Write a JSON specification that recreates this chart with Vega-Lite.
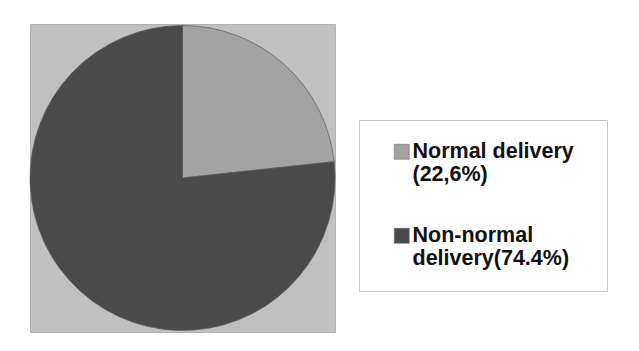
{
  "$schema": "https://vega.github.io/schema/vega-lite/v6.json",
  "width": 305,
  "height": 308,
  "autosize": "none",
  "padding": {"left": 30, "top": 24, "right": 304, "bottom": 19},
  "background": "white",
  "view": {"fill": "#c0c0c0", "stroke": "#b2b2b2", "strokeWidth": 1},
  "data": {
    "values": [
      {"category": "Normal delivery (22,6%)", "percent": 22.6},
      {"category": "Non-normal delivery(74.4%)", "percent": 74.4}
    ]
  },
  "mark": {"type": "arc", "stroke": "#5a5a5a", "strokeWidth": 0.7},
  "encoding": {
    "theta": {"field": "percent", "type": "quantitative", "stack": true},
    "order": {"field": "percent", "type": "quantitative", "sort": "ascending"},
    "color": {
      "field": "category",
      "type": "nominal",
      "scale": {
        "domain": ["Normal delivery (22,6%)", "Non-normal delivery(74.4%)"],
        "range": ["#a3a3a3", "#4a4a4a"]
      },
      "legend": {
        "orient": "none",
        "legendX": 329,
        "legendY": 96,
        "title": "\u00a0",
        "titleOrient": "right",
        "titlePadding": 12,
        "titleFontSize": 2,
        "fillColor": "white",
        "strokeColor": "#c8c8c8",
        "padding": 21,
        "symbolType": "square",
        "symbolSize": 225,
        "symbolStrokeColor": "#6e6e6e",
        "symbolStrokeWidth": 0.6,
        "symbolOffset": 11,
        "labelFont": "Liberation Sans",
        "labelFontSize": 21.5,
        "labelFontWeight": "bold",
        "labelColor": "#111111",
        "labelLineHeight": 24,
        "labelOffset": 0,
        "labelLimit": 0,
        "labelBaseline": "alphabetic",
        "rowPadding": 38,
        "labelExpr": "datum.label == 'Normal delivery (22,6%)' ? ['Normal delivery', '(22,6%)'] : ['Non-normal', 'delivery(74.4%)']",
        "encode": {"labels": {"update": {"dy": {"value": 6}}}}
      }
    }
  }
}
